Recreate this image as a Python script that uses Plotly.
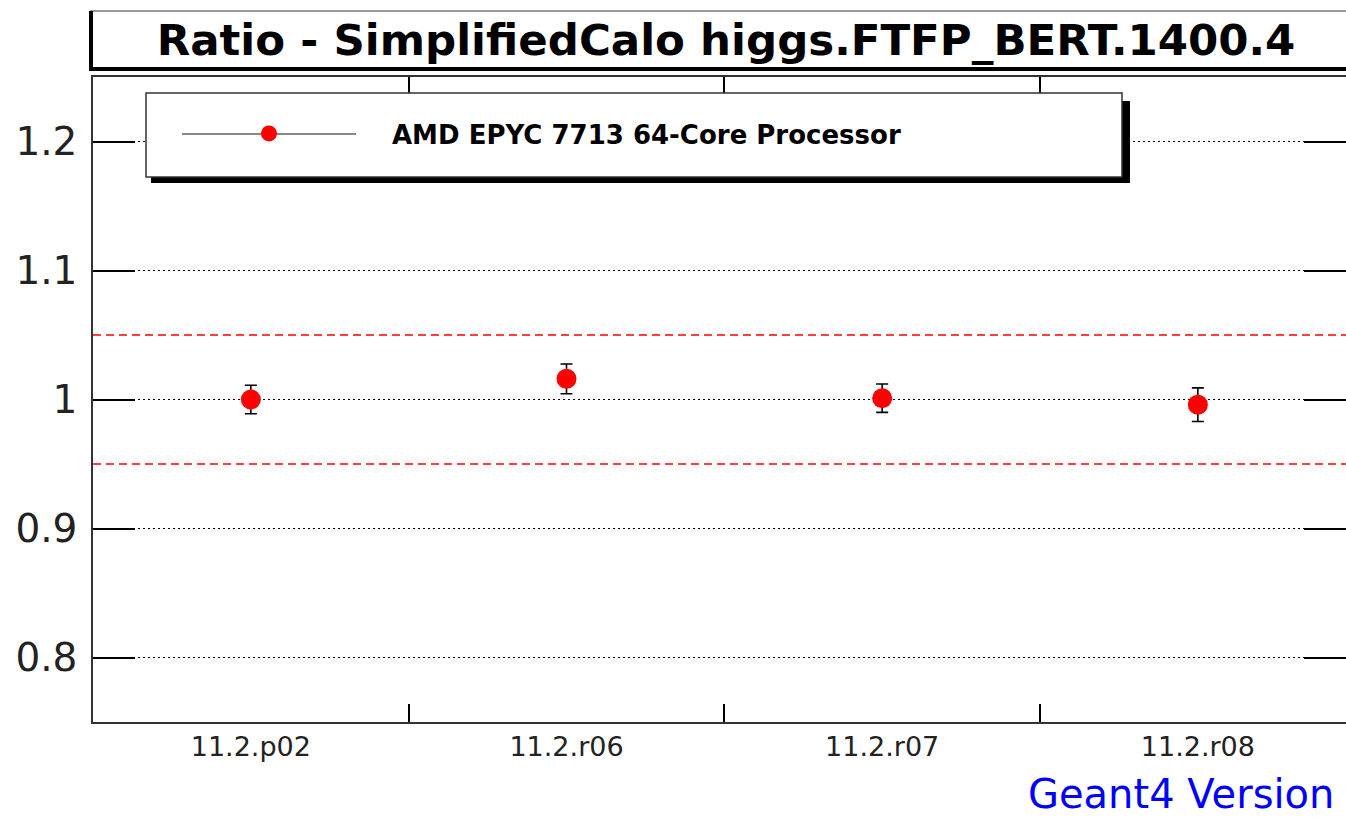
import plotly.graph_objects as go

# ---- data ----
VERSIONS = ["11.2.p02", "11.2.r06", "11.2.r07", "11.2.r08"]
RATIO = [1.000, 1.016, 1.001, 0.996]
RATIO_ERR = [0.011, 0.0115, 0.011, 0.013]
SERIES_NAME = "AMD EPYC 7713 64-Core Processor"
Y_TICKS = [0.8, 0.9, 1.0, 1.1, 1.2]
Y_TICK_TEXT = ["0.8", "0.9", "1", "1.1", "1.2"]
BAND = [0.95, 1.05]
TITLE = "Ratio - SimplifiedCalo higgs.FTFP_BERT.1400.4"
X_TITLE = "Geant4 Version"

W, H = 1346, 819
ML, MR, MT, MB = 93, 0, 77, 97
PW, PH = W - ML - MR, H - MT - MB


def px(x):
    return (x - ML) / PW


def py(y):
    return (H - MB - y) / PH


FONT = "DejaVu Sans"

fig = go.Figure()

fig.add_trace(go.Scatter(
    x=VERSIONS, y=RATIO, mode="markers",
    marker=dict(color="#ff0000", size=20, line=dict(width=0)),
    error_y=dict(type="data", array=RATIO_ERR, color="black", thickness=1.6, width=6),
    showlegend=False, name=SERIES_NAME,
))
# legend entry (marker only; the grey legend line is drawn as a shape)
fig.add_trace(go.Scatter(
    x=[None], y=[None], mode="markers", name=SERIES_NAME, yaxis="y2",
    marker=dict(color="#ff0000", size=18),
    showlegend=True,
))

shapes = []
# reference band lines
for b in BAND:
    shapes.append(dict(type="line", xref="paper", yref="y", x0=0, x1=1, y0=b, y1=b,
                       line=dict(color="#ff0000", width=1.5, dash="8px,5px"), layer="below"))
# title box
shapes.append(dict(type="rect", xref="paper", yref="paper",
                   x0=px(91), x1=px(1360), y0=py(69), y1=py(11),
                   fillcolor="white", line=dict(color="#777777", width=1.5)))
shapes.append(dict(type="line", xref="paper", yref="paper",
                   x0=px(91), x1=px(91), y0=py(11), y1=py(71),
                   line=dict(color="black", width=4)))
shapes.append(dict(type="line", xref="paper", yref="paper",
                   x0=px(89), x1=px(1360), y0=py(69), y1=py(69),
                   line=dict(color="black", width=4)))
# legend box with shadow
shapes.append(dict(type="rect", xref="paper", yref="paper",
                   x0=px(151), x1=px(1130), y0=py(183), y1=py(101),
                   fillcolor="black", line=dict(width=0)))
shapes.append(dict(type="rect", xref="paper", yref="paper",
                   x0=px(146), x1=px(1122), y0=py(177), y1=py(93),
                   fillcolor="white", line=dict(color="#333333", width=1.5)))
# grey legend line
shapes.append(dict(type="line", xref="paper", yref="paper",
                   x0=px(182), x1=px(356), y0=py(134), y1=py(134),
                   line=dict(color="#888888", width=2)))

fig.update_layout(
    width=W, height=H,
    margin=dict(l=ML, r=MR, t=MT, b=MB, autoexpand=False),
    paper_bgcolor="white", plot_bgcolor="white",
    font=dict(family=FONT, color="black"),
    title=dict(text="<b>" + TITLE + "</b>", font=dict(family=FONT, size=43.5, color="black"),
               x=726 / W, xref="container", xanchor="center",
               y=1 - 40 / H, yref="container", yanchor="middle"),
    shapes=shapes,
    showlegend=True,
    legend=dict(
        x=px(146), y=py(110), xanchor="left", yanchor="top",
        bgcolor="rgba(0,0,0,0)", borderwidth=0,
        font=dict(family=FONT, size=26, color="black", weight="bold"),
        itemwidth=236,
    ),
    xaxis=dict(
        type="category", categoryorder="array", categoryarray=VERSIONS,
        range=[-0.5, -0.5 + PW / 315.67],
        tickson="boundaries", ticks="inside", ticklen=18, tickwidth=1.5, tickcolor="black",
        showline=True, linecolor="#333333", linewidth=1.5, mirror="ticks",
        showgrid=False, zeroline=False,
        tickfont=dict(family=FONT, size=27, color="#222222"),
        ticklabelstandoff=0,
    ),
    yaxis=dict(
        range=[0.75, 1.25],
        tickvals=Y_TICKS, ticktext=Y_TICK_TEXT,
        ticks="inside", ticklen=42, tickwidth=1.5, tickcolor="black",
        showline=True, linecolor="#333333", linewidth=1.5, mirror=False,
        showgrid=True, gridcolor="black", gridwidth=1, griddash="2px,3px",
        zeroline=False,
        tickfont=dict(family=FONT, size=39, color="#222222"),
        ticklabelstandoff=6,
    ),
    yaxis2=dict(
        overlaying="y", side="right", range=[0.75, 1.25],
        tickvals=Y_TICKS, ticks="inside", ticklen=42, tickwidth=1.5, tickcolor="black",
        showticklabels=False, showgrid=False, showline=False, zeroline=False,
    ),
    annotations=[dict(
        text=X_TITLE, xref="paper", yref="paper", x=1, y=py(794),
        xanchor="right", yanchor="middle", xshift=-10, showarrow=False,
        font=dict(family=FONT, size=40, color="#0000ff"),
    )],
)

fig.write_html(
    "out.html",
    config={"displayModeBar": False},
    post_script="document.body.style.margin='0';document.body.style.overflow='hidden';",
)
